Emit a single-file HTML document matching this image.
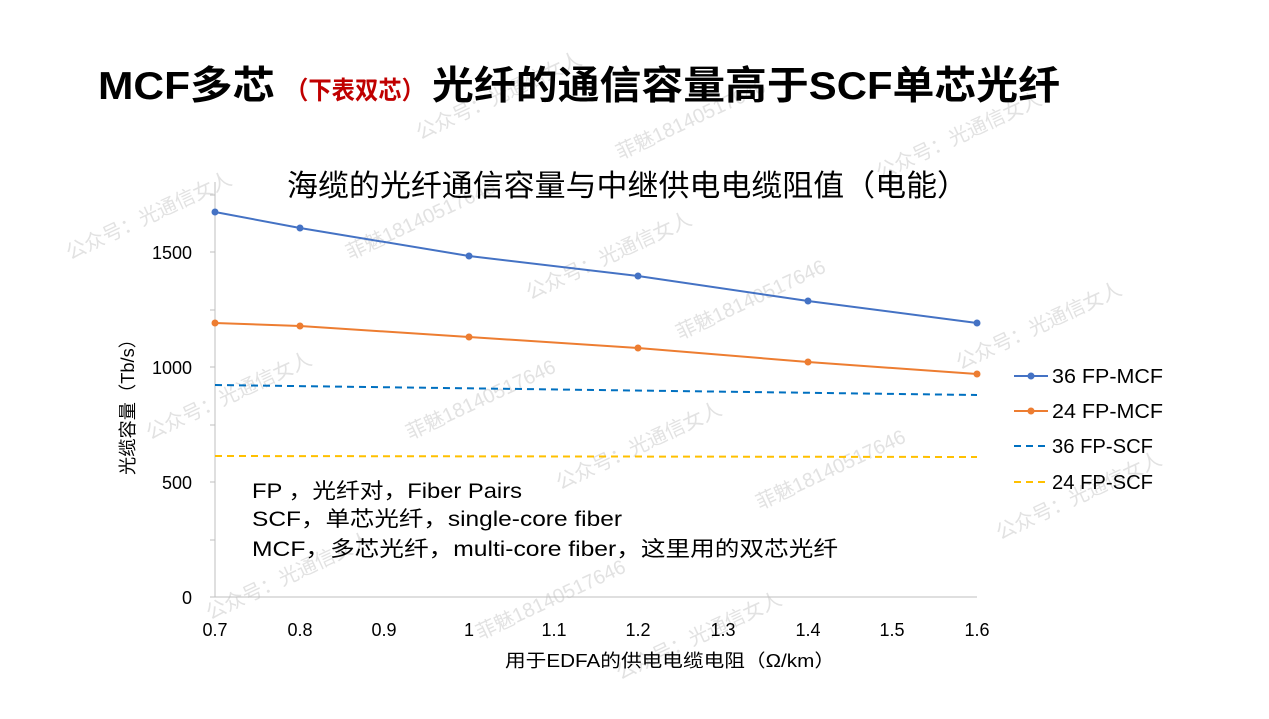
<!DOCTYPE html>
<html><head><meta charset="utf-8"><style>
body{margin:0;background:#fff;}
svg text{font-family:"Liberation Sans","Noto Sans CJK SC",sans-serif;}
</style></head><body>
<svg width="1269" height="714" xmlns="http://www.w3.org/2000/svg">
<rect width="1269" height="714" fill="#fff"/>
<g fill="#e2e2e2" font-size="20" font-family="Liberation Serif,Noto Serif CJK SC,serif">
<text transform="translate(420,140) rotate(-25)">公众号：光通信女人</text>
<text transform="translate(620,160) rotate(-25)">菲魅18140517646</text>
<text transform="translate(880,180) rotate(-25)">公众号：光通信女人</text>
<text transform="translate(70,260) rotate(-25)">公众号：光通信女人</text>
<text transform="translate(350,260) rotate(-25)">菲魅18140517646</text>
<text transform="translate(530,300) rotate(-25)">公众号：光通信女人</text>
<text transform="translate(680,340) rotate(-25)">菲魅18140517646</text>
<text transform="translate(960,370) rotate(-25)">公众号：光通信女人</text>
<text transform="translate(150,440) rotate(-25)">公众号：光通信女人</text>
<text transform="translate(410,440) rotate(-25)">菲魅18140517646</text>
<text transform="translate(560,490) rotate(-25)">公众号：光通信女人</text>
<text transform="translate(760,510) rotate(-25)">菲魅18140517646</text>
<text transform="translate(1000,540) rotate(-25)">公众号：光通信女人</text>
<text transform="translate(210,620) rotate(-25)">公众号：光通信女人</text>
<text transform="translate(480,640) rotate(-25)">菲魅18140517646</text>
<text transform="translate(620,680) rotate(-25)">公众号：光通信女人</text>
</g>
<text x="98" y="99" font-size="39" font-weight="bold" fill="#000" textLength="177" lengthAdjust="spacingAndGlyphs">MCF多芯</text>
<text x="285" y="99" font-size="25" font-weight="bold" fill="#c00000" textLength="140" lengthAdjust="spacingAndGlyphs">（下表双芯）</text>
<text x="432" y="99" font-size="39" font-weight="bold" fill="#000" textLength="628" lengthAdjust="spacingAndGlyphs">光纤的通信容量高于SCF单芯光纤</text>
<text x="287" y="196" font-size="30" fill="#000" textLength="681" lengthAdjust="spacingAndGlyphs">海缆的光纤通信容量与中继供电电缆阻值（电能）</text>
<g stroke="#bfbfbf" stroke-width="1">
<line x1="215" y1="182" x2="215" y2="597"/>
<line x1="215" y1="597" x2="977" y2="597"/>
<line x1="210" y1="597" x2="215" y2="597"/><line x1="210" y1="482" x2="215" y2="482"/><line x1="210" y1="367" x2="215" y2="367"/><line x1="210" y1="252" x2="215" y2="252"/>
<line x1="210" y1="540" x2="215" y2="540"/><line x1="210" y1="425" x2="215" y2="425"/><line x1="210" y1="310" x2="215" y2="310"/><line x1="210" y1="195" x2="215" y2="195"/>
</g>
<g font-size="18" fill="#000" text-anchor="end">
<text x="192" y="604">0</text><text x="192" y="489">500</text><text x="192" y="374">1000</text><text x="192" y="259">1500</text>
</g>
<g font-size="18" fill="#000" text-anchor="middle">
<text x="215" y="636">0.7</text><text x="300" y="636">0.8</text><text x="384" y="636">0.9</text><text x="469" y="636">1</text><text x="554" y="636">1.1</text><text x="638" y="636">1.2</text><text x="723" y="636">1.3</text><text x="808" y="636">1.4</text><text x="892" y="636">1.5</text><text x="977" y="636">1.6</text>
</g>
<text x="505" y="667" font-size="18" textLength="330" lengthAdjust="spacingAndGlyphs">用于EDFA的供电电缆电阻（Ω/km）</text>
<text transform="translate(134,475) rotate(-90)" font-size="18" textLength="145" lengthAdjust="spacingAndGlyphs">光缆容量（Tb/s）</text>
<polyline points="215,212 300,228 469,256 638,276 808,301 977,323" fill="none" stroke="#4472c4" stroke-width="2"/>
<g fill="#4472c4"><circle cx="215" cy="212" r="3.5"/><circle cx="300" cy="228" r="3.5"/><circle cx="469" cy="256" r="3.5"/><circle cx="638" cy="276" r="3.5"/><circle cx="808" cy="301" r="3.5"/><circle cx="977" cy="323" r="3.5"/></g>
<polyline points="215,323 300,326 469,337 638,348 808,362 977,374" fill="none" stroke="#ed7d31" stroke-width="2"/>
<g fill="#ed7d31"><circle cx="215" cy="323" r="3.5"/><circle cx="300" cy="326" r="3.5"/><circle cx="469" cy="337" r="3.5"/><circle cx="638" cy="348" r="3.5"/><circle cx="808" cy="362" r="3.5"/><circle cx="977" cy="374" r="3.5"/></g>
<line x1="215" y1="385" x2="977" y2="395" stroke="#0070c0" stroke-width="2" stroke-dasharray="7,5"/>
<line x1="215" y1="456" x2="977" y2="457" stroke="#ffc000" stroke-width="2" stroke-dasharray="7,5"/>
<g font-size="21" fill="#000">
<text x="252" y="498" textLength="270" lengthAdjust="spacingAndGlyphs">FP ，光纤对，Fiber Pairs</text>
<text x="252" y="526" textLength="370" lengthAdjust="spacingAndGlyphs">SCF，单芯光纤，single-core fiber</text>
<text x="252" y="556" textLength="586" lengthAdjust="spacingAndGlyphs">MCF，多芯光纤，multi-core fiber，这里用的双芯光纤</text>
</g>
<line x1="1014" y1="376" x2="1048" y2="376" stroke="#4472c4" stroke-width="2"/><circle cx="1031" cy="376" r="3.5" fill="#4472c4"/>
<line x1="1014" y1="411" x2="1048" y2="411" stroke="#ed7d31" stroke-width="2"/><circle cx="1031" cy="411" r="3.5" fill="#ed7d31"/>
<line x1="1014" y1="446" x2="1048" y2="446" stroke="#0070c0" stroke-width="2" stroke-dasharray="7,5"/>
<line x1="1014" y1="482" x2="1048" y2="482" stroke="#ffc000" stroke-width="2" stroke-dasharray="7,5"/>
<g font-size="20" fill="#000">
<text x="1052" y="383" textLength="111" lengthAdjust="spacingAndGlyphs">36 FP-MCF</text><text x="1052" y="418" textLength="111" lengthAdjust="spacingAndGlyphs">24 FP-MCF</text><text x="1052" y="453" textLength="101" lengthAdjust="spacingAndGlyphs">36 FP-SCF</text><text x="1052" y="489" textLength="101" lengthAdjust="spacingAndGlyphs">24 FP-SCF</text>
</g>
</svg>
</body></html>
